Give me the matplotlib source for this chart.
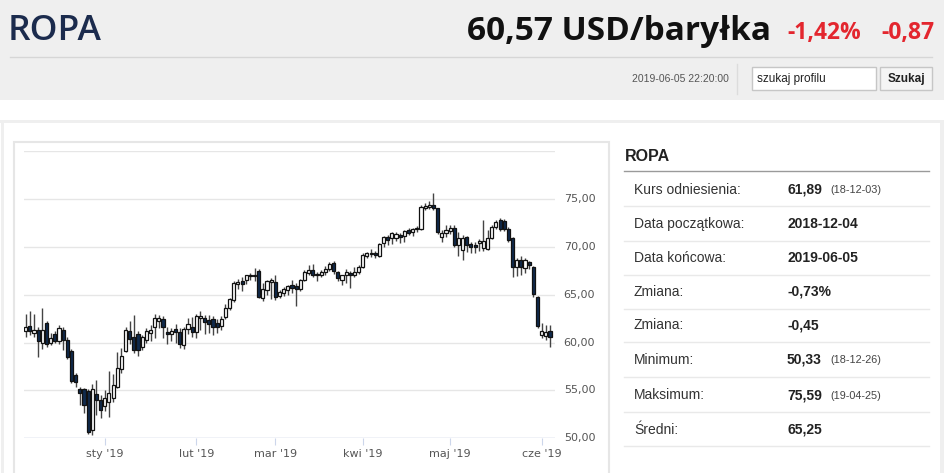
import numpy as np
import pandas as pd
import matplotlib
matplotlib.use("Agg")
import matplotlib.pyplot as plt
from matplotlib.patches import Rectangle

# trading days shown on the chart
dates = pd.bdate_range("2018-12-04", "2019-06-05")
holidays = pd.to_datetime(["2018-12-25", "2019-01-01", "2019-02-18",
                           "2019-04-19", "2019-05-27"])
dates = dates[~dates.isin(holidays)]

opens = [61.2, 61.7, 61.0, 61.3, 59.9, 62.0, 60.0, 60.9, 60.2, 61.3,
         60.3, 59.1, 56.6, 55.2, 55.1, 54.9, 50.9, 54.6, 54.0, 53.4,
         53.8, 54.2, 55.4, 57.2, 59.1, 61.2, 60.6, 60.9, 59.5, 60.3,
         61.0, 61.6, 62.3, 62.5, 61.1, 60.9, 61.4, 61.1, 59.7, 61.4,
         61.6, 61.1, 62.6, 62.6, 62.4, 62.5, 62.0, 61.7, 62.7, 63.6,
         64.4, 66.1, 66.4, 66.5, 67.1, 66.9, 67.5, 64.7, 65.5, 66.3,
         66.3, 64.9, 65.2, 65.5, 66.0, 65.9, 65.6, 66.5, 67.3, 67.6,
         67.2, 67.1, 67.4, 67.7, 68.3, 67.4, 66.5, 67.0, 67.3, 67.1,
         67.4, 67.9, 69.0, 69.2, 69.4, 69.0, 70.4, 71.0, 70.9, 70.9,
         71.2, 71.1, 71.8, 71.5, 71.9, 71.9, 74.1, 74.2, 74.4, 74.0,
         71.0, 71.4, 71.6, 72.0, 70.2, 69.7, 71.0, 70.3, 70.2, 70.4,
         69.9, 69.8, 70.9, 72.1, 72.8, 72.7, 71.9, 70.9, 67.9, 68.6,
         67.8, 68.4, 67.9, 64.8, 60.8, 60.7, 61.2]
highs = [63.0, 63.3, 63.0, 61.6, 63.6, 62.2, 61.0, 61.2, 61.8, 61.6,
         60.6, 59.3, 56.8, 55.4, 55.3, 55.2, 55.7, 56.1, 54.5, 55.0,
         57.0, 56.7, 59.0, 59.4, 61.6, 62.2, 62.9, 61.2, 60.8, 61.5,
         61.8, 63.0, 62.9, 62.8, 61.6, 61.5, 61.9, 61.5, 61.6, 62.6,
         62.7, 63.0, 63.3, 62.9, 62.9, 62.8, 62.5, 62.8, 64.0, 64.7,
         66.4, 66.6, 66.8, 67.1, 67.3, 67.8, 67.7, 66.2, 66.5, 66.7,
         67.0, 65.5, 65.8, 66.0, 66.5, 66.2, 66.6, 67.6, 68.1, 68.2,
         67.4, 67.6, 68.0, 68.4, 68.5, 67.5, 67.1, 67.7, 67.5, 67.9,
         68.1, 69.3, 69.5, 69.8, 69.6, 70.4, 71.1, 71.2, 71.5, 71.5,
         71.4, 71.8, 72.0, 72.0, 72.2, 74.4, 74.6, 74.8, 75.6, 74.1,
         71.8, 72.3, 72.3, 72.3, 71.5, 71.2, 71.1, 70.5, 70.5, 70.8,
         72.8, 71.8, 72.3, 72.8, 73.0, 72.9, 72.1, 71.0, 68.8, 69.0,
         68.8, 68.5, 68.0, 64.9, 62.0, 61.8, 61.8]
lows = [60.6, 60.8, 60.6, 58.5, 59.3, 59.5, 59.7, 59.9, 59.8, 59.2,
        58.3, 55.8, 55.4, 53.5, 52.6, 50.4, 50.3, 52.4, 52.1, 52.8,
        52.2, 53.8, 55.3, 56.8, 59.0, 59.8, 58.9, 58.6, 59.2, 60.0,
        60.2, 60.5, 61.5, 60.5, 59.8, 60.2, 60.0, 59.4, 59.3, 60.9,
        60.6, 60.5, 61.3, 60.9, 61.0, 60.8, 61.0, 61.3, 62.5, 63.4,
        64.2, 65.6, 65.4, 66.1, 66.5, 66.4, 64.6, 64.3, 65.0, 64.5,
        64.4, 64.7, 64.9, 65.0, 65.2, 63.8, 65.4, 66.4, 67.0, 66.8,
        66.4, 66.8, 67.1, 67.5, 67.2, 66.4, 66.0, 66.2, 65.7, 66.8,
        67.2, 67.8, 68.8, 68.9, 68.8, 68.9, 70.0, 70.2, 70.3, 70.6,
        70.4, 70.5, 71.2, 71.1, 71.5, 71.8, 73.8, 73.9, 73.8, 71.3,
        70.5, 71.0, 71.3, 70.0, 69.0, 68.6, 69.5, 69.4, 69.3, 69.6,
        69.6, 69.7, 70.8, 71.9, 71.6, 71.6, 70.5, 66.8, 66.9, 67.0,
        67.3, 67.7, 64.8, 61.5, 60.5, 60.3, 59.5]
closes = [61.6, 61.2, 61.3, 60.2, 61.3, 59.8, 60.5, 60.2, 61.5, 60.3,
          58.5, 56.0, 55.9, 54.7, 53.5, 50.7, 55.2, 54.0, 53.0, 54.2,
          54.7, 55.6, 57.3, 58.6, 61.3, 60.4, 59.2, 59.2, 60.6, 61.2,
          61.3, 62.6, 62.6, 61.6, 60.9, 61.2, 61.1, 59.8, 61.4, 61.9,
          61.1, 62.8, 62.8, 62.1, 61.9, 61.6, 61.6, 62.5, 63.6, 64.5,
          66.2, 66.3, 66.1, 67.0, 66.9, 67.0, 64.8, 65.6, 66.4, 66.5,
          64.8, 65.3, 65.6, 65.9, 65.7, 65.6, 66.5, 67.4, 67.6, 67.1,
          67.0, 67.4, 67.7, 68.2, 67.5, 66.7, 67.0, 67.4, 67.0, 67.4,
          67.9, 69.1, 69.3, 69.4, 69.1, 70.3, 71.0, 70.7, 71.4, 71.3,
          71.0, 71.6, 71.4, 71.9, 72.0, 74.2, 74.3, 74.4, 74.1, 71.5,
          71.4, 71.7, 72.0, 70.2, 70.9, 70.9, 70.2, 70.0, 70.0, 70.6,
          70.6, 70.9, 72.1, 72.6, 71.9, 71.9, 70.7, 67.9, 68.6, 67.9,
          68.6, 68.1, 65.1, 61.7, 61.2, 61.1, 60.6]

month_labels = ["sty '19", "lut '19", "mar '19", "kwi '19", "maj '19", "cze '19"]
y_ticks = [50, 55, 60, 65, 70, 75, 80]

table_labels = ["Kurs odniesienia:", "Data początkowa:", "Data końcowa:", "Zmiana:",
                "Zmiana:", "Minimum:", "Maksimum:", "Średni:"]
table_values = ["61,89", "2018-12-04", "2019-06-05", "-0,73%", "-0,45",
                "50,33", "75,59", "65,25"]
table_dates = ["(18-12-03)", "", "", "", "", "(18-12-26)", "(19-04-25)", ""]

W, H = 945, 473
fig = plt.figure(figsize=(W / 100, H / 100), dpi=100)

# page background, drawn in pixel coordinates
bg = fig.add_axes([0, 0, 1, 1])
bg.set_xlim(0, W)
bg.set_ylim(H, 0)
bg.axis("off")

bg.add_patch(Rectangle((0, 0), W, 100, color="#efefef", lw=0))
bg.plot([10, 932], [57, 57], color="#d6d6d6", lw=1)
bg.text(8, 31, "ROPA", fontsize=25.5, color="#1b2b4d", va="center",
        family="Open Sans", fontweight="semibold")
bg.text(771, 31, "60,57 USD/baryłka", fontsize=24, color="#111111", va="center",
        ha="right", family="Open Sans", fontweight="bold")
bg.text(787, 33, "-1,42%", fontsize=16.5, color="#e3262e", va="center",
        family="Open Sans", fontweight="bold")
bg.text(934, 33, "-0,87", fontsize=16.5, color="#e3262e", va="center",
        ha="right", family="Open Sans", fontweight="bold")
bg.text(729, 79, "2019-06-05 22:20:00", fontsize=7.5, color="#555555",
        va="center", ha="right", family="Liberation Sans")
bg.plot([737, 737], [64, 94], color="#dcdcdc", lw=1)
bg.add_patch(Rectangle((752, 67), 124, 23, facecolor="white", edgecolor="#c6c6c6", lw=1))
bg.text(757, 79, "szukaj profilu", fontsize=8.5, color="#222222", va="center",
        family="Liberation Sans")
bg.add_patch(Rectangle((880, 67), 52, 23, facecolor="#f5f5f5", edgecolor="#c6c6c6", lw=1))
bg.text(906, 79, "Szukaj", fontsize=8.5, color="#222222", va="center", ha="center",
        family="Liberation Sans", fontweight="bold")

# frame around content
bg.add_patch(Rectangle((0, 120), W, 3, color="#efefef", lw=0))
bg.add_patch(Rectangle((1, 120), 3, H - 120, color="#efefef", lw=0))
bg.add_patch(Rectangle((940, 120), 5, H - 120, color="#efefef", lw=0))
bg.add_patch(Rectangle((13.5, 141.5), 595, 340, facecolor="white", edgecolor="#e6e6e6", lw=1.5))

# statistics table
bg.text(625, 156, "ROPA", fontsize=11.5, color="#222222", va="center",
        family="Liberation Sans", fontweight="bold")
bg.plot([624, 929], [171, 171], color="#9a9a9a", lw=1)
row_y = [189.5, 223.5, 257.5, 291.5, 325, 359.5, 395, 429.5]
line_y = [206, 240.5, 274.5, 308.5, 342, 376.5, 412, 446]
for lab, val, dt, yc, yl in zip(table_labels, table_values, table_dates, row_y, line_y):
    bg.text(634, yc, lab, fontsize=10, color="#333333", va="center", family="Liberation Sans")
    bg.text(787, yc, val, fontsize=10, color="#222222", va="center",
            family="Liberation Sans", fontweight="bold")
    if dt:
        bg.text(830, yc + 0.5, dt, fontsize=7.8, color="#444444", va="center",
                family="Liberation Sans")
    bg.plot([624, 929], [yl, yl], color="#e9e9e9", lw=1)

# candlestick chart
left, right, top, bottom = 24.5, 555.2, 151, 438.3
ax = fig.add_axes([left / W, 1 - bottom / H, (right - left) / W, (bottom - top) / H])
ax.patch.set_alpha(0)

x = np.arange(len(dates))
o = np.array(opens)
c = np.array(closes)
up = c >= o
ax.vlines(x, lows, highs, color="#444444", lw=1.0, zorder=2)
body = np.maximum(np.abs(c - o), 0.08)
ax.bar(x[up], body[up], bottom=np.minimum(o, c)[up], width=0.75,
       color="white", edgecolor="#111111", lw=0.9, zorder=3)
ax.bar(x[~up], body[~up], bottom=np.minimum(o, c)[~up], width=0.75,
       color="#0f2a4d", edgecolor="#111111", lw=0.9, zorder=3)

ax.set_ylim(50, 80)
ax.set_xlim(-0.29, 127.25)
for yv in y_ticks:
    ax.axhline(yv, color="#e6e6e6", lw=1, zorder=1)
ax.axhline(50, color="#ccd6eb", lw=1, zorder=1)
ax.set_yticks([])

month_start = [int(np.argmax((dates.month == m) & (dates.year == 2019))) for m in range(1, 7)]
ax.set_xticks(month_start)
ax.set_xticklabels(month_labels, fontsize=8, color="#555555", family="DejaVu Sans")
ax.tick_params(axis="x", length=5, color="#ccd6eb", pad=3)
for s in ax.spines.values():
    s.set_visible(False)

for yv in y_ticks[:-1]:
    ax.text(1.016, (yv - 50) / 30, f"{yv},00", transform=ax.transAxes, fontsize=8,
            color="#555555", va="center", ha="left", family="DejaVu Sans")

fig.savefig("out.png", dpi=100)
